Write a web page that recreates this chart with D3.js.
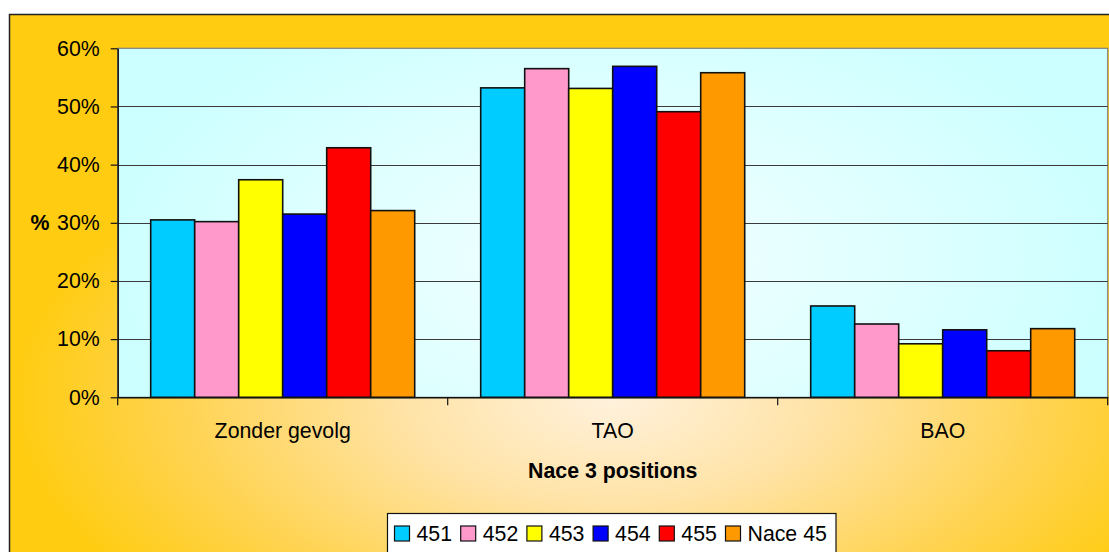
<!DOCTYPE html>
<html>
<head>
<meta charset="utf-8">
<script src="https://cdn.jsdelivr.net/npm/d3@7/dist/d3.min.js"></script>
<style>
  html, body { margin: 0; padding: 0; background: #ffffff; }
  svg { display: block; font-family: "Liberation Sans", Arial, sans-serif; }
</style>
</head>
<body>
<svg id="chart" width="1109" height="552"></svg>
<script>
// Categories, series and values (percent)
const categories = ["Zonder gevolg", "TAO", "BAO"];
const seriesNames = ["451", "452", "453", "454", "455", "Nace 45"];
const seriesColors = ["#00CCFF", "#FF99CC", "#FFFF00", "#0000FF", "#FF0000", "#FF9900"];
const values451 = [30.5, 53.2, 15.7];
const values452 = [30.2, 56.5, 12.6];
const values453 = [37.4, 53.1, 9.2];
const values454 = [31.5, 56.9, 11.6];
const values455 = [42.9, 49.1, 8.0];
const valuesNace45 = [32.1, 55.8, 11.8];
const yTicks = [0, 10, 20, 30, 40, 50, 60];
const xTitle = "Nace 3 positions";
const yTitle = "%";

const seriesValues = [values451, values452, values453, values454, values455, valuesNace45];

const svg = d3.select("#chart");
const W = 1109, H = 552;
const plot = { left: 117.7, right: 1107.7, top: 48.3, bottom: 397.3 };
const fontSize = 21.3;

// Gradients
const defs = svg.append("defs");
const outerGrad = defs.append("radialGradient")
  .attr("id", "outerGrad")
  .attr("gradientUnits", "userSpaceOnUse")
  .attr("cx", 612).attr("cy", 400).attr("r", 600)
  .attr("gradientTransform", "translate(612,400) scale(1,0.5) translate(-612,-400)");
outerGrad.append("stop").attr("offset", "0").attr("stop-color", "#FFF1DC");
outerGrad.append("stop").attr("offset", "0.35").attr("stop-color", "#FFE3A6");
outerGrad.append("stop").attr("offset", "0.75").attr("stop-color", "#FFD24A");
outerGrad.append("stop").attr("offset", "1").attr("stop-color", "#FFCC11");

const plotGrad = defs.append("radialGradient")
  .attr("id", "plotGrad")
  .attr("gradientUnits", "userSpaceOnUse")
  .attr("cx", 612).attr("cy", 260).attr("r", 520)
  .attr("gradientTransform", "translate(612,260) scale(1,0.55) translate(-612,-260)");
plotGrad.append("stop").attr("offset", "0").attr("stop-color", "#F4FFFF");
plotGrad.append("stop").attr("offset", "0.6").attr("stop-color", "#DDFFFF");
plotGrad.append("stop").attr("offset", "1").attr("stop-color", "#CCFFFF");

// Chart area background with border
svg.append("rect")
  .attr("x", 9.5).attr("y", 14.5)
  .attr("width", 1200).attr("height", 600)
  .attr("fill", "url(#outerGrad)")
  .attr("stroke", "#222").attr("stroke-width", 1.5);

// Plot area
svg.append("rect")
  .attr("x", plot.left).attr("y", plot.top)
  .attr("width", plot.right - plot.left).attr("height", plot.bottom - plot.top)
  .attr("fill", "url(#plotGrad)")
  .attr("stroke", "#808080").attr("stroke-width", 1.2);

// Scales
const y = d3.scaleLinear().domain([0, 60]).range([plot.bottom, plot.top]);
const x0 = d3.scaleBand().domain(categories).range([plot.left, plot.right]).padding(0);
const x1 = d3.scaleBand().domain(seriesNames).range([0, x0.bandwidth()])
  .paddingInner(0).paddingOuter(0.75);
const color = d3.scaleOrdinal().domain(seriesNames).range(seriesColors);

// Gridlines
svg.append("g")
  .selectAll("line")
  .data(yTicks.filter(d => d > 0 && d < 60))
  .join("line")
  .attr("x1", plot.left).attr("x2", plot.right)
  .attr("y1", d => Math.round(y(d)) + 0.5).attr("y2", d => Math.round(y(d)) + 0.5)
  .attr("stroke", "#3a3a3a").attr("stroke-width", 1);

// Bars
const groups = svg.append("g")
  .selectAll("g")
  .data(categories)
  .join("g")
  .attr("transform", d => `translate(${x0(d)},0)`);

groups.selectAll("rect")
  .data((c, ci) => seriesNames.map((s, si) => ({ series: s, value: seriesValues[si][ci] })))
  .join("rect")
  .attr("x", d => x1(d.series))
  .attr("y", d => y(d.value))
  .attr("width", x1.bandwidth())
  .attr("height", d => y(0) - y(d.value))
  .attr("fill", d => color(d.series))
  .attr("stroke", "#111").attr("stroke-width", 1.6);

// Y axis
const yAxis = svg.append("g")
  .attr("transform", `translate(${plot.left},0)`)
  .call(d3.axisLeft(y).tickValues(yTicks).tickSize(7).tickSizeOuter(0)
    .tickFormat(d => d + "%"));
yAxis.select(".domain").attr("stroke", "#111").attr("stroke-width", 1.5);
yAxis.selectAll(".tick line").attr("stroke", "#111").attr("stroke-width", 1.2);
yAxis.selectAll(".tick text")
  .attr("x", -18)
  .attr("font-size", fontSize)
  .attr("font-family", "Liberation Sans, Arial, sans-serif")
  .attr("fill", "#000");

// X axis
const xAxis = svg.append("g")
  .attr("transform", `translate(0,${plot.bottom})`)
  .call(d3.axisBottom(x0).tickSize(0).tickSizeOuter(0));
xAxis.select(".domain").attr("stroke", "#111").attr("stroke-width", 1.5);
xAxis.selectAll(".tick text")
  .attr("y", 0).attr("dy", 0)
  .attr("transform", "translate(0,41)")
  .attr("font-size", fontSize)
  .attr("font-family", "Liberation Sans, Arial, sans-serif")
  .attr("fill", "#000");

// Category separator ticks
const sepX = categories.map(c => x0(c)).concat([x0(categories[categories.length - 1]) + x0.bandwidth()]);
svg.append("g")
  .selectAll("line")
  .data(sepX)
  .join("line")
  .attr("x1", d => d).attr("x2", d => d)
  .attr("y1", plot.bottom).attr("y2", plot.bottom + 8)
  .attr("stroke", "#111").attr("stroke-width", 1.2);

// Axis titles
svg.append("text")
  .attr("x", (plot.left + plot.right) / 2).attr("y", 478)
  .attr("text-anchor", "middle")
  .attr("font-size", fontSize).attr("font-weight", "bold")
  .text(xTitle);

svg.append("text")
  .attr("x", 40).attr("y", y(30)).attr("dy", "0.36em")
  .attr("text-anchor", "middle")
  .attr("font-size", fontSize).attr("font-weight", "bold")
  .text(yTitle);

// Legend
const legend = svg.append("g");
legend.append("rect")
  .attr("x", 387.5).attr("y", 513.5)
  .attr("width", 448.5).attr("height", 60)
  .attr("fill", "#fff").attr("stroke", "#111").attr("stroke-width", 1.2);

const items = legend.selectAll("g.item")
  .data(seriesNames)
  .join("g")
  .attr("class", "item")
  .attr("transform", (d, i) => `translate(${394.5 + i * 66.2},526)`);
items.append("rect")
  .attr("width", 15).attr("height", 15)
  .attr("fill", d => color(d))
  .attr("stroke", "#111").attr("stroke-width", 1.2);
items.append("text")
  .attr("x", 22).attr("y", 14.5)
  .attr("font-size", fontSize)
  .attr("fill", "#000")
  .text(d => d);
</script>
</body>
</html>
